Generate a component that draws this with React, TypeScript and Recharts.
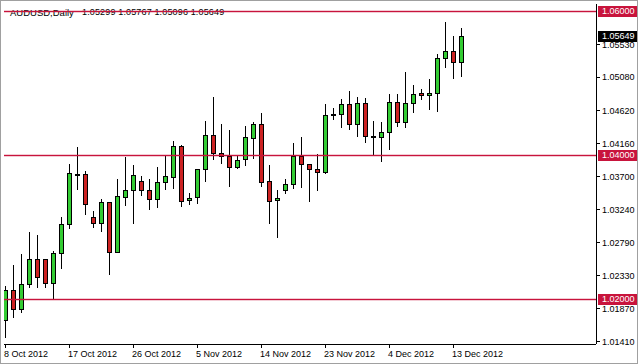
import React from 'react';
import { ComposedChart, Bar, XAxis, YAxis, ReferenceLine } from 'recharts';

// Daily OHLC bars, AUDUSD (8 Oct 2012 .. 14 Dec 2012)
const opens = [
  1.01713, 1.02125, 1.01869, 1.02208, 1.02555, 1.02555, 1.0223, 1.02638, 1.03049, 1.03745,
  1.03734, 1.03146, 1.03054, 1.03346, 1.0266, 1.03423, 1.03512, 1.03641, 1.03512, 1.03387,
  1.03623, 1.03701, 1.04127, 1.03374, 1.03415, 1.03804, 1.0428, 1.04026, 1.03992, 1.03831,
  1.03942, 1.04242, 1.04432, 1.03641, 1.03374, 1.03516, 1.03595, 1.03992, 1.03873, 1.03804,
  1.0377, 1.04567, 1.04567, 1.04705, 1.04428, 1.04719, 1.04266, 1.04248, 1.04317, 1.04733,
  1.04456, 1.04719, 1.04858, 1.0483, 1.04858, 1.05352, 1.05449, 1.05299,
];
const highs = [
  1.02189, 1.02476, 1.02628, 1.02934, 1.02892, 1.02566, 1.0267, 1.03138, 1.03877, 1.04113,
  1.0378, 1.03225, 1.03387, 1.0335, 1.03669, 1.0397, 1.03863, 1.03711, 1.03669, 1.03831,
  1.03992, 1.042, 1.04134, 1.03471, 1.03812, 1.04474, 1.04811, 1.04432, 1.04349, 1.03992,
  1.04404, 1.04464, 1.04589, 1.03863, 1.03516, 1.03669, 1.04173, 1.04248, 1.03877, 1.04012,
  1.04705, 1.04661, 1.04779, 1.0489, 1.04803, 1.04789, 1.04474, 1.04456, 1.04848, 1.04848,
  1.05154, 1.04973, 1.04914, 1.05052, 1.05399, 1.05852, 1.05653, 1.05767,
];
const lows = [
  1.01481, 1.0175, 1.01828, 1.02175, 1.02166, 1.02175, 1.02, 1.02438, 1.02985, 1.03534,
  1.03179, 1.03007, 1.02952, 1.02351, 1.02656, 1.03308, 1.03054, 1.03443, 1.03249, 1.03285,
  1.03526, 1.0354, 1.03299, 1.03322, 1.0334, 1.03645, 1.03942, 1.03887, 1.03572, 1.03828,
  1.03867, 1.03965, 1.03576, 1.03063, 1.02868, 1.03471, 1.0354, 1.03562, 1.03368, 1.03516,
  1.03748, 1.04501, 1.04386, 1.04359, 1.0427, 1.04178, 1.03998, 1.03923, 1.04081, 1.04409,
  1.04395, 1.04594, 1.04775, 1.04644, 1.04613, 1.05227, 1.05075, 1.05096,
];
const closes = [
  1.02129, 1.01869, 1.02208, 1.02555, 1.02305, 1.02233, 1.02638, 1.0304, 1.03748, 1.03738,
  1.03318, 1.03054, 1.03346, 1.0266, 1.03429, 1.03516, 1.0372, 1.03512, 1.03387, 1.03623,
  1.03711, 1.04127, 1.0336, 1.0341, 1.03808, 1.0428, 1.04026, 1.03984, 1.03831, 1.03933,
  1.04248, 1.04432, 1.03632, 1.03368, 1.03405, 1.03595, 1.03992, 1.03873, 1.03801, 1.03773,
  1.04553, 1.04564, 1.04705, 1.04428, 1.04719, 1.0427, 1.04261, 1.04317, 1.04733, 1.04456,
  1.04719, 1.04844, 1.0483, 1.04858, 1.05352, 1.05449, 1.05297, 1.05649,
];

const tickIndexes = [0, 8, 16, 24, 32, 40, 48, 56];
const tickLabels = [
  '8 Oct 2012', '17 Oct 2012', '26 Oct 2012', '5 Nov 2012',
  '14 Nov 2012', '23 Nov 2012', '4 Dec 2012', '13 Dec 2012',
];
const priceTicks = [1.0141, 1.0187, 1.0233, 1.0279, 1.0324, 1.037, 1.0416, 1.0462, 1.0508, 1.0553];
const levelLines = [1.06, 1.04, 1.02];
const lastPrice = 1.05649;
const symbolTitle = 'AUDUSD,Daily';
const headerValues = '1.05299 1.05767 1.05096 1.05649';
const xDomain = [-0.125, 73.875];
const yDomain = [1.0138, 1.06097];

const FONT = '"Liberation Sans", Arial, sans-serif';
const UP = '#33CC33';
const DOWN = '#CC2222';
const LEVEL = '#C8143C';

const data = opens.map((o, i) => ({
  i, open: o, high: highs[i], low: lows[i], close: closes[i], range: [lows[i], highs[i]],
}));

const Candle = (props: any) => {
  const { x, y, width, height, payload } = props;
  if (!payload || payload.high == null) return null;
  const top = Math.min(y, y + height);
  const h = Math.abs(height);
  const span = payload.high - payload.low;
  const k = span > 0 ? h / span : 0;
  const py = (v: number) => top + (payload.high - v) * k;
  const cx = Math.floor(x + width / 2) + 0.5;
  const yH = Math.round(py(payload.high));
  const yL = Math.round(py(payload.low));
  const yo = py(payload.open);
  const yc = py(payload.close);
  const bt = Math.round(Math.min(yo, yc)) + 0.5;
  let bb = Math.round(Math.max(yo, yc)) + 0.5;
  if (bb - bt < 1) bb = bt + 1;
  const up = payload.close >= payload.open;
  return (
    <g>
      <line x1={cx} x2={cx} y1={yH} y2={yL + 1} stroke="#000" strokeWidth={1} />
      <rect x={cx - 2} y={bt} width={4} height={bb - bt} fill={up ? UP : DOWN} stroke="#000" strokeWidth={1} />
    </g>
  );
};

const XTick = (props: any) => {
  const { x, y, payload } = props;
  const idx = tickIndexes.indexOf(payload.value);
  return (
    <text x={x - 1} y={y} dy={7} fontSize={9} fontFamily={FONT} fill="#000" textAnchor="start">
      {idx >= 0 ? tickLabels[idx] : ''}
    </text>
  );
};

const YTick = (props: any) => {
  const { x, y, payload } = props;
  return (
    <text x={x} y={y} dy="0.35em" fontSize={9} fontFamily={FONT} fill="#000" textAnchor="start">
      {Number(payload.value).toFixed(5)}
    </text>
  );
};

const makeLevelLine = (color: string) => (props: any) => {
  const { x1, x2, y1 } = props;
  if (y1 == null) return null;
  const yy = Math.round(y1) + 0.5;
  return (
    <g>
      <line x1={x1} x2={x2} y1={yy} y2={yy} stroke={color} strokeOpacity={0.22} strokeWidth={3} />
      <line x1={x1} x2={x2} y1={yy} y2={yy} stroke={color} strokeWidth={1} />
    </g>
  );
};
const HiddenLine = () => null;

const PriceTag = (props: any) => {
  const { viewBox, text, bg } = props;
  if (!viewBox) return null;
  const x0 = viewBox.x + viewBox.width + 2;
  const yc = Math.round(viewBox.y);
  return (
    <g>
      <rect x={x0} y={yc - 5} width={40} height={11} fill={bg} />
      <text x={x0 + 4} y={yc} dy="0.35em" fontSize={9} fontFamily={FONT} fill="#fff">
        {text}
      </text>
    </g>
  );
};

export default function App() {
  return (
    <div style={{ position: 'absolute', left: 0, top: 0, width: 638, height: 364, background: '#fff', overflow: 'hidden' }}>
      <div style={{ position: 'absolute', left: 10, top: 8, fontSize: 9.5, lineHeight: '9px', fontFamily: FONT, color: '#000', whiteSpace: 'pre' }}>
        {symbolTitle}
      </div>
      <div style={{ position: 'absolute', left: 82, top: 8, fontSize: 9, lineHeight: '9px', fontFamily: FONT, color: '#000', whiteSpace: 'pre', letterSpacing: '0.15px' }}>
        {headerValues}
      </div>
      <div style={{ position: 'absolute', left: 0, top: 0 }}>
        <ComposedChart width={638} height={364} data={data} margin={{ top: 4, right: 0, bottom: 0, left: 4 }} barCategoryGap={0} barGap={0}>
          <XAxis dataKey="i" type="number" domain={xDomain} allowDataOverflow ticks={tickIndexes} interval={0} height={20} tickSize={4} tickMargin={2} tick={<XTick />}
            tickLine={{ stroke: '#000', shapeRendering: 'crispEdges' }} axisLine={{ stroke: '#000', shapeRendering: 'crispEdges' }} />
          <XAxis xAxisId="top" dataKey="i" type="number" domain={xDomain} orientation="top" height={0} tick={false} tickLine={false}
            axisLine={{ stroke: '#000', shapeRendering: 'crispEdges' }} />
          <YAxis orientation="right" type="number" domain={yDomain} allowDataOverflow ticks={priceTicks} interval={0} width={42} tickSize={4} tickMargin={2} tick={<YTick />}
            tickLine={{ stroke: '#000', shapeRendering: 'crispEdges' }} axisLine={{ stroke: '#000', shapeRendering: 'crispEdges' }} />
          <YAxis yAxisId="left" orientation="left" type="number" domain={yDomain} width={0} tick={false} tickLine={false}
            axisLine={{ stroke: '#000', shapeRendering: 'crispEdges' }} />
          <Bar dataKey="range" isAnimationActive={false} shape={<Candle />} />
          {levelLines.map((v) => (
            <ReferenceLine key={v} y={v} stroke={LEVEL} strokeWidth={1} shape={makeLevelLine(LEVEL)}
              label={<PriceTag text={v.toFixed(5)} bg={LEVEL} />} />
          ))}
          <ReferenceLine y={lastPrice} stroke="#000" strokeOpacity={0} shape={HiddenLine}
            label={<PriceTag text={lastPrice.toFixed(5)} bg="#000" />} />
        </ComposedChart>
      </div>
      <div style={{ position: 'absolute', left: 0, top: 0, width: 638, height: 364, boxSizing: 'border-box', border: '1px solid #a0a0a0', pointerEvents: 'none' }} />
    </div>
  );
}
